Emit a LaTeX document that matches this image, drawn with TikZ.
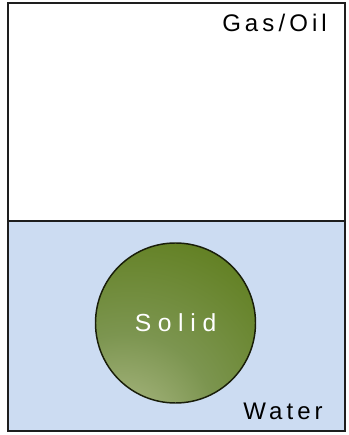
\documentclass[tikz,border=0pt]{standalone}
\usepackage{fontspec}
\setmainfont{Liberation Sans}
\newfontfamily\phasefont[LetterSpace=17]{Liberation Sans}
\newfontfamily\solidfont[LetterSpace=27]{Liberation Sans}
\usetikzlibrary{positioning}
\definecolor{waterblue}{RGB}{204,220,242}
\definecolor{tankline}{RGB}{30,30,30}
\definecolor{solidedge}{RGB}{25,30,10}
\pgfdeclareradialshading{solidshade}{\pgfpoint{-20bp}{-40bp}}{%
  color(0bp)=(rgb,255:red,226;green,233;blue,196);
  color(10bp)=(rgb,255:red,165;green,180;blue,125);
  color(28bp)=(rgb,255:red,124;green,149;blue,80);
  color(52bp)=(rgb,255:red,99;green,129;blue,36);
  color(78bp)=(rgb,255:red,91;green,122;blue,22);
  color(130bp)=(rgb,255:red,91;green,122;blue,22)}

\begin{document}
\begin{tikzpicture}[
  x=0.75pt, y=0.75pt,
  tank/.style={draw=tankline, line width=2.2pt},
  interface/.style={draw=tankline, line width=2.2pt},
  phaselabel/.style={inner sep=0pt, font=\phasefont\fontsize{18}{20}\selectfont,
                     anchor=base west},
  solidball/.style={circle, draw=solidedge, line width=1.1pt, shading=solidshade,
                    minimum size=120pt, inner sep=0pt, text=white,
                    font=\solidfont\fontsize{18.5}{20}\selectfont},
]
\useasboundingbox (0,0) rectangle (349,435);

% Tank corners and interface
\coordinate (tl) at (8,432);
\coordinate (br) at (345,4);
\coordinate (ifl) at (8,214);
\coordinate (ifr) at (345,214);

% Phases
\fill[white] (tl) rectangle (ifr);
\fill[waterblue] (ifl) rectangle (br);

% Solid particle
\node[solidball] (solid) at (175.5,112) {Solid};

% Labels
\node[phaselabel] (gas)   at (222,403) {Gas/Oil};
\node[phaselabel] (water) at (243,15)  {Water};

% Walls
\draw[interface] (ifl) -- (ifr);
\draw[tank] (tl) rectangle (br);

\end{tikzpicture}
\end{document}
